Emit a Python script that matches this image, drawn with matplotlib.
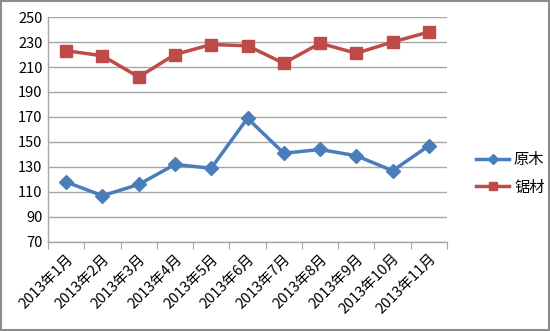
import matplotlib
matplotlib.use("Agg")
import matplotlib.pyplot as plt
from matplotlib.patches import Rectangle

plt.rcParams['font.family'] = ['Noto Sans CJK SC', 'DejaVu Sans']

months = ["2013年1月", "2013年2月", "2013年3月", "2013年4月", "2013年5月", "2013年6月",
          "2013年7月", "2013年8月", "2013年9月", "2013年10月", "2013年11月"]
logs = [118, 107, 116, 132, 129, 169, 141, 144, 139, 127, 147]
lumber = [223, 219, 202, 220, 228, 227, 213, 229, 221, 230, 238]
yticks = [70, 90, 110, 130, 150, 170, 190, 210, 230, 250]

fig = plt.figure(figsize=(5.5, 3.31), dpi=100)
fig.patches.append(Rectangle((0.002, 0.003), 0.996, 0.994, transform=fig.transFigure,
                             fill=False, edgecolor='#8c8c8c', linewidth=1.5))
ax = fig.add_axes([0.0873, 0.269, 0.7254, 0.6796])

x = list(range(len(months)))
ax.plot(x, logs, color='#4A7EBB', linewidth=2.5, marker='D', markersize=7,
        label='原木', zorder=3)
ax.plot(x, lumber, color='#BE4B48', linewidth=2.5, marker='s', markersize=8,
        label='锯材', zorder=3)

ax.set_xlim(-0.5, len(months) - 0.5)
ax.set_ylim(70, 250)
ax.set_yticks(yticks)
ax.set_yticklabels([str(v) for v in yticks], fontsize=10.5)
ax.yaxis.grid(True, color='#a6a6a6', linewidth=1)
ax.set_axisbelow(True)
ax.tick_params(axis='y', length=0, pad=4)

ax.set_xticks([i - 0.5 for i in range(len(months) + 1)], minor=False)
ax.set_xticklabels([])
ax.set_xticks(x, minor=True)
ax.set_xticklabels(months, minor=True, rotation=45, ha='right', rotation_mode='anchor', fontsize=10.5)
ax.tick_params(axis='x', which='major', length=5, color='#a6a6a6', direction='out')
ax.tick_params(axis='x', which='minor', length=0, pad=7)

for s in ['top', 'right']:
    ax.spines[s].set_visible(False)
for s in ['left', 'bottom']:
    ax.spines[s].set_color('#a6a6a6')
    ax.spines[s].set_linewidth(1)

leg = fig.legend(loc='upper left', bbox_to_anchor=(0.84, 0.585), frameon=False,
                 fontsize=11, handlelength=2.2, labelspacing=0.7, handletextpad=0.3,
                 markerscale=0.8)

fig.savefig('out.png', dpi=100)
